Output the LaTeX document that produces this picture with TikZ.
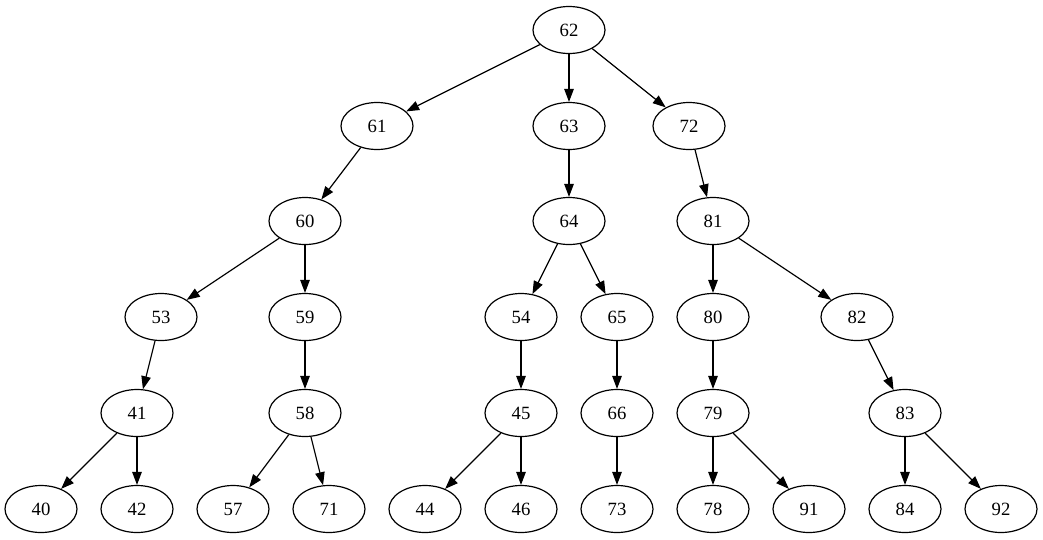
\documentclass[tikz,border=0pt]{standalone}
\usepackage{fontspec}
\setmainfont{Liberation Serif}
\usetikzlibrary{shapes.geometric,arrows.meta}
\begin{document}
\begin{tikzpicture}[x=1pt,y=-1pt,
  tnode/.style={draw,ellipse,minimum width=72pt,minimum height=47pt,inner sep=0pt,line width=1.2pt,font=\fontsize{18.7}{22}\selectfont},
  edge/.style={line width=1.2pt,-{Triangle[length=13pt,width=9.5pt]}}]
\useasboundingbox (0,0) rectangle (1043,539);
\node[tnode] (n62) at (569,30) {62};
\node[tnode] (n61) at (377,126) {61};
\node[tnode] (n63) at (569,126) {63};
\node[tnode] (n72) at (689,126) {72};
\node[tnode] (n60) at (305,221) {60};
\node[tnode] (n64) at (569,221) {64};
\node[tnode] (n81) at (713,221) {81};
\node[tnode] (n53) at (161,317) {53};
\node[tnode] (n59) at (305,317) {59};
\node[tnode] (n54) at (521,317) {54};
\node[tnode] (n65) at (617,317) {65};
\node[tnode] (n80) at (713,317) {80};
\node[tnode] (n82) at (857,317) {82};
\node[tnode] (n41) at (137,413) {41};
\node[tnode] (n58) at (305,413) {58};
\node[tnode] (n45) at (521,413) {45};
\node[tnode] (n66) at (617,413) {66};
\node[tnode] (n79) at (713,413) {79};
\node[tnode] (n83) at (905,413) {83};
\node[tnode] (n40) at (41,509) {40};
\node[tnode] (n42) at (137,509) {42};
\node[tnode] (n57) at (233,509) {57};
\node[tnode] (n71) at (329,509) {71};
\node[tnode] (n44) at (425,509) {44};
\node[tnode] (n46) at (521,509) {46};
\node[tnode] (n73) at (617,509) {73};
\node[tnode] (n78) at (713,509) {78};
\node[tnode] (n91) at (809,509) {91};
\node[tnode] (n84) at (905,509) {84};
\node[tnode] (n92) at (1001,509) {92};
\foreach \a/\b in {n62/n61,n62/n63,n62/n72,n61/n60,n63/n64,n72/n81,
  n60/n53,n60/n59,n64/n54,n64/n65,n81/n80,n81/n82,
  n53/n41,n59/n58,n54/n45,n65/n66,n80/n79,n82/n83,
  n41/n40,n41/n42,n58/n57,n58/n71,n45/n44,n45/n46,n66/n73,n79/n78,n79/n91,n83/n84,n83/n92}
  \draw[edge] (\a) -- (\b);
\end{tikzpicture}
\end{document}
